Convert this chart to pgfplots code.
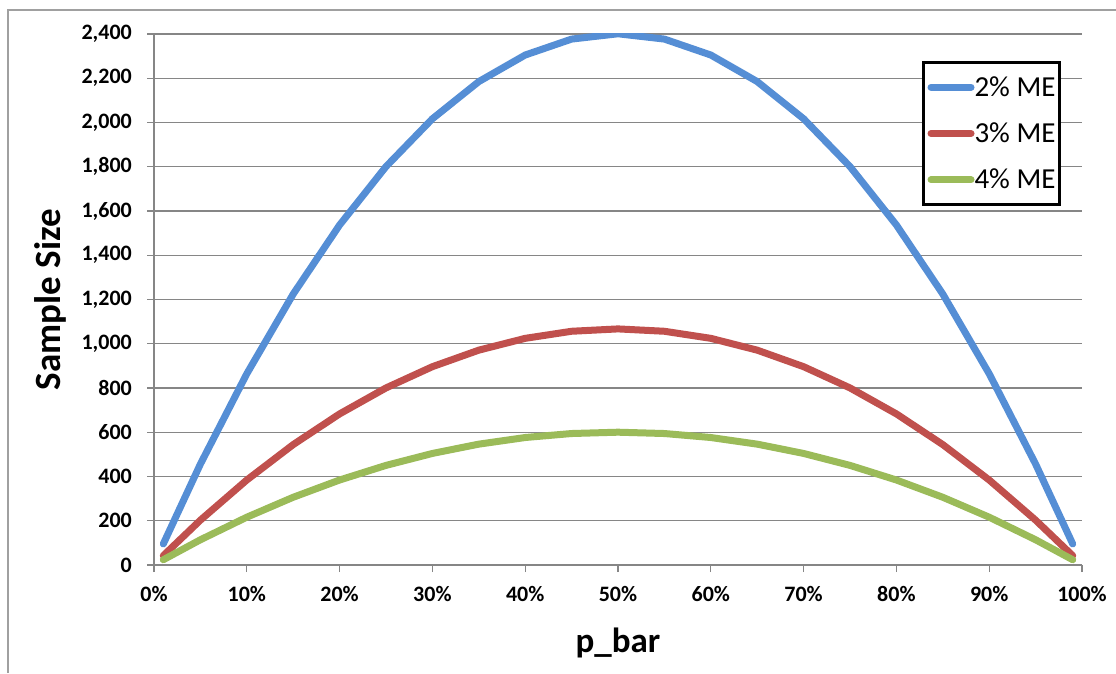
\documentclass[border=0pt]{standalone}
\usepackage{pgfplots}
\pgfplotsset{compat=1.18}
\usepackage{fontspec}
\setmainfont{Carlito}
\definecolor{cBlue}{RGB}{85,142,213}
\definecolor{cRed}{RGB}{192,80,77}
\definecolor{cGreen}{RGB}{155,187,89}
\definecolor{cGrid}{RGB}{134,134,134}
\definecolor{cBorder}{RGB}{160,160,160}
\begin{document}
\begin{tikzpicture}[x=1pt,y=1pt]
\useasboundingbox (0,0) rectangle (1116,673);
\draw[cBorder, line width=1.2pt] (8,0) -- (8,663) -- (1116,663);
\begin{axis}[
  at={(154pt,108pt)}, anchor=origin,
  scale only axis, width=928pt, height=531pt,
  xmin=0, xmax=1, ymin=0, ymax=2400,
  axis x line=bottom, axis y line=left,
  axis line style={cGrid, line width=1.2pt, -},
  xtick={0,0.1,0.2,0.3,0.4,0.5,0.6,0.7,0.8,0.9,1},
  xticklabels={0\%,10\%,20\%,30\%,40\%,50\%,60\%,70\%,80\%,90\%,100\%},
  ytick={0,200,400,600,800,1000,1200,1400,1600,1800,2000,2200,2400},
  ymajorgrids, major grid style={cGrid, line width=1.2pt},
  tick align=outside, major tick length=7pt,
  tick style={cGrid, line width=1.2pt},
  /pgf/number format/assume math mode=true,
  /pgf/number format/1000 sep={,},
  ticklabel style={font=\bfseries\fontsize{22}{26}\selectfont},
  yticklabel style={inner sep=0pt, xshift=-15pt},
  xticklabel style={inner sep=0pt, yshift=-14pt},
  xlabel={p\_bar}, ylabel={Sample Size},
  xlabel style={font=\bfseries\fontsize{35}{40}\selectfont, at={(axis description cs:0.5,-0.118)}, anchor=north, inner sep=0pt},
  ylabel style={font=\bfseries\fontsize{37}{42}\selectfont, at={(axis description cs:-0.094,0.5)}, anchor=south, inner sep=0pt},
  legend style={at={(axis description cs:0.8276,0.949)}, anchor=north west,
    draw=black, line width=3pt, font=\fontsize{29}{32}\selectfont,
    inner xsep=4pt, inner ysep=14pt, row sep=25pt,
    nodes={inner xsep=0pt, inner ysep=0pt}},
  legend cell align=left,
  legend image code/.code={\draw[#1, line width=7pt, line cap=round] (0pt,0pt) -- (40pt,0pt);},
  every axis plot/.append style={line width=7pt, line cap=round, line join=round},
]
\addplot[cBlue] coordinates {
(0.01,95.08)(0.05,456.19)(0.10,864.36)(0.15,1224.51)(0.20,1536.64)(0.25,1800.75)
(0.30,2016.84)(0.35,2184.91)(0.40,2304.96)(0.45,2376.99)(0.50,2401)
(0.55,2376.99)(0.60,2304.96)(0.65,2184.91)(0.70,2016.84)(0.75,1800.75)
(0.80,1536.64)(0.85,1224.51)(0.90,864.36)(0.95,456.19)(0.99,95.08)};
\addlegendentry{2\% ME}
\addplot[cRed] coordinates {
(0.01,42.26)(0.05,202.75)(0.10,384.16)(0.15,544.23)(0.20,682.95)(0.25,800.33)
(0.30,896.37)(0.35,971.07)(0.40,1024.43)(0.45,1056.44)(0.50,1067.11)
(0.55,1056.44)(0.60,1024.43)(0.65,971.07)(0.70,896.37)(0.75,800.33)
(0.80,682.95)(0.85,544.23)(0.90,384.16)(0.95,202.75)(0.99,42.26)};
\addlegendentry{3\% ME}
\addplot[cGreen] coordinates {
(0.01,23.77)(0.05,114.05)(0.10,216.09)(0.15,306.13)(0.20,384.16)(0.25,450.19)
(0.30,504.21)(0.35,546.23)(0.40,576.24)(0.45,594.25)(0.50,600.25)
(0.55,594.25)(0.60,576.24)(0.65,546.23)(0.70,504.21)(0.75,450.19)
(0.80,384.16)(0.85,306.13)(0.90,216.09)(0.95,114.05)(0.99,23.77)};
\addlegendentry{4\% ME}
\end{axis}
\end{tikzpicture}
\end{document}
